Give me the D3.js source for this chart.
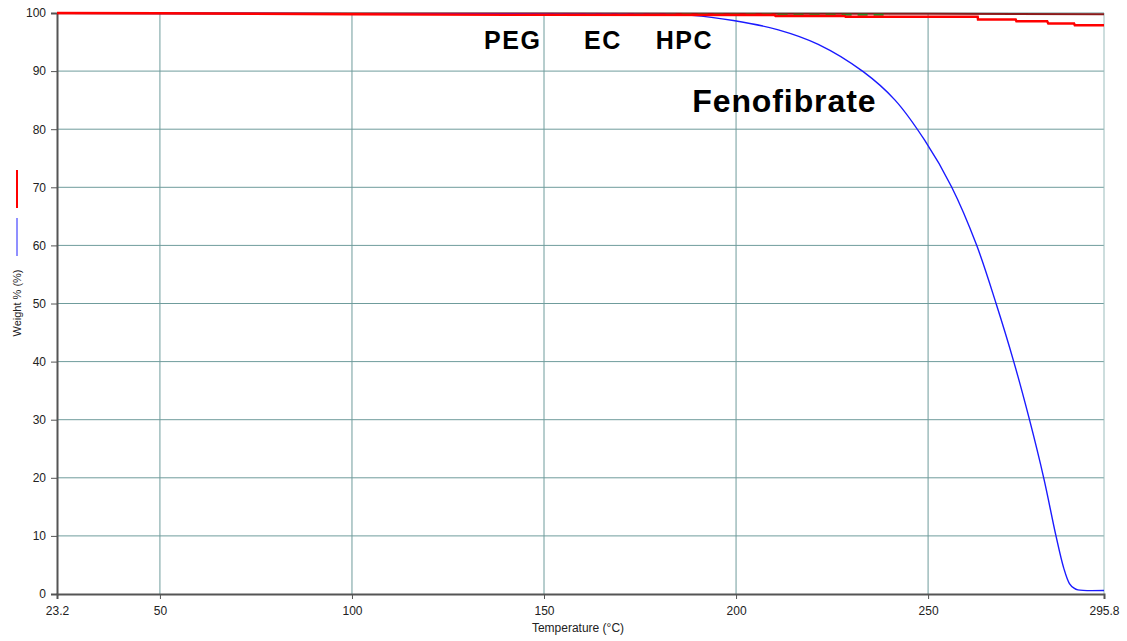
<!DOCTYPE html>
<html><head><meta charset="utf-8">
<script src="https://cdn.jsdelivr.net/npm/d3@7"></script>
<style>
body{margin:0;background:#fff;}
svg{display:block;}
</style></head>
<body>
<svg id="chart" width="1127" height="641"></svg>
<script>
// ---- data ----
const xTicks = [23.2, 50, 100, 150, 200, 250, 295.8];
const xTickLabels = ["23.2", "50", "100", "150", "200", "250", "295.8"];
const yTicks = [0, 10, 20, 30, 40, 50, 60, 70, 80, 90, 100];

const fenoT = [23.2, 100, 150, 170, 180, 188.5, 199.3, 211, 221.4, 233.1, 241.4, 249.1, 256.1, 262.6, 267.7, 272.3, 276.4, 280.1, 283.3, 285.3, 286.8, 288, 289, 295.8];
const fenoW = [99.95, 99.9, 99.85, 99.8, 99.75, 99.6, 98.7, 97.1, 94.6, 89.9, 85.0, 78.1, 70.1, 60.1, 50, 40, 30, 20, 10, 4.5, 1.8, 1.0, 0.7, 0.6];

const redT = [23.2, 50, 100, 150, 210, 210.3, 228.3, 228.5, 262.9, 263, 272.8, 273, 281, 281.3, 288, 288.2, 295.8];
const redW = [100, 99.95, 99.8, 99.7, 99.66, 99.5, 99.5, 99.37, 99.37, 98.9, 98.9, 98.6, 98.6, 98.2, 98.2, 97.9, 97.9];

const darkRedT = [23.2, 100, 150, 200, 250, 295.8];
const darkRedW = [99.95, 99.9, 99.9, 99.85, 99.85, 99.8];

const greenT = [140, 180, 210, 240];
const greenW = [99.8, 99.75, 99.72, 99.7];

const labels = [
  {text: "PEG", x: 134.4, y: 93.8, size: 25, ls: 1.5},
  {text: "EC", x: 160.4, y: 93.8, size: 25, ls: 1.5},
  {text: "HPC", x: 179.1, y: 93.8, size: 25, ls: 1.5},
  {text: "Fenofibrate", x: 188.6, y: 83.0, size: 32, ls: 0.9}
];

// ---- layout ----
const L = 57, R = 1104, T = 13, B = 594;
const svg = d3.select("#chart");
const x = d3.scaleLinear().domain([23.2, 295.8]).range([L, R]);
const y = d3.scaleLinear().domain([0, 100]).range([B, T]);
const gridColor = "#6f9c9c";

// grid
svg.append("g").selectAll("line").data(yTicks.filter(d => d > 0)).join("line")
  .attr("x1", L).attr("x2", R).attr("y1", d => y(d)).attr("y2", d => y(d))
  .attr("stroke", gridColor).attr("stroke-width", 1);
svg.append("g").selectAll("line").data(xTicks.slice(1)).join("line")
  .attr("x1", d => x(d)).attr("x2", d => x(d)).attr("y1", T).attr("y2", B)
  .attr("stroke", d => d === 295.8 ? "#9bbcbc" : gridColor).attr("stroke-width", 1);

// axes
const yAxis = d3.axisLeft(y).tickValues(yTicks).tickSize(6).tickPadding(5).tickFormat(d3.format("d"));
const gy = svg.append("g").attr("transform", `translate(${L},0)`).call(yAxis);
gy.select(".domain").attr("stroke", "#555").attr("stroke-width", 2);
gy.selectAll(".tick line").attr("stroke", "#555");
gy.selectAll("text").attr("font-family", "Liberation Sans, Arial, sans-serif").attr("font-size", 12).attr("fill", "#222");

const xAxis = d3.axisBottom(x).tickValues(xTicks).tickSize(5).tickPadding(7).tickFormat((d, i) => xTickLabels[i]);
const gx = svg.append("g").attr("transform", `translate(0,${B})`).call(xAxis);
gx.select(".domain").attr("stroke", "#555").attr("stroke-width", 2);
gx.selectAll(".tick line").attr("stroke", "#555");
gx.selectAll("text").attr("font-family", "Liberation Sans Narrow, Arial Narrow, sans-serif").attr("font-size", 12).attr("fill", "#222");

// axis titles
svg.append("text").attr("x", 578).attr("y", 632).attr("text-anchor", "middle")
  .attr("font-family", "Liberation Sans Narrow, Arial Narrow, sans-serif").attr("font-size", 12).attr("fill", "#222")
  .text("Temperature (°C)");
svg.append("text").attr("transform", "translate(21,303) rotate(-90)").attr("text-anchor", "middle")
  .attr("font-family", "Liberation Sans, Arial, sans-serif").attr("font-size", 11).attr("fill", "#222")
  .text("Weight % (%)");

// legend marks
svg.append("line").attr("x1", 17).attr("x2", 17).attr("y1", 170).attr("y2", 208).attr("stroke", "#ff0000").attr("stroke-width", 2);
svg.append("line").attr("x1", 17).attr("x2", 17).attr("y1", 218).attr("y2", 256).attr("stroke", "#2020ff").attr("stroke-width", 1);

// clip
svg.append("clipPath").attr("id", "clip").append("rect").attr("x", L).attr("y", T - 3).attr("width", R - L + 1).attr("height", B - T + 3);
const plot = svg.append("g").attr("clip-path", "url(#clip)");
const line = d3.line().x(d => x(d[0])).y(d => y(d[1]));
const zipT = (a, b) => a.map((t, i) => [t, b[i]]);

plot.append("path").datum(zipT(darkRedT, darkRedW)).attr("d", line).attr("fill", "none").attr("stroke", "#8b1a1a").attr("stroke-width", 2);
plot.append("path").datum(zipT(greenT, greenW)).attr("d", line).attr("fill", "none").attr("stroke", "#228b22").attr("stroke-width", 2).attr("stroke-dasharray", "10,6");
plot.append("path").datum(zipT(fenoT, fenoW)).attr("d", d3.line().curve(d3.curveCatmullRom.alpha(0.5)).x(d => x(d[0])).y(d => y(d[1])))
  .attr("fill", "none").attr("stroke", "#1a1aff").attr("stroke-width", 1.4);
plot.append("path").datum(zipT(redT, redW)).attr("d", line).attr("fill", "none").attr("stroke", "#ff0000").attr("stroke-width", 2.5);

// annotations
svg.append("g").selectAll("text").data(labels).join("text")
  .attr("x", d => x(d.x)).attr("y", d => y(d.y))
  .attr("font-family", "Liberation Sans, Arial, sans-serif").attr("font-weight", "bold")
  .attr("font-size", d => d.size).attr("letter-spacing", d => d.ls).attr("fill", "#000")
  .text(d => d.text);
</script>
</body></html>
